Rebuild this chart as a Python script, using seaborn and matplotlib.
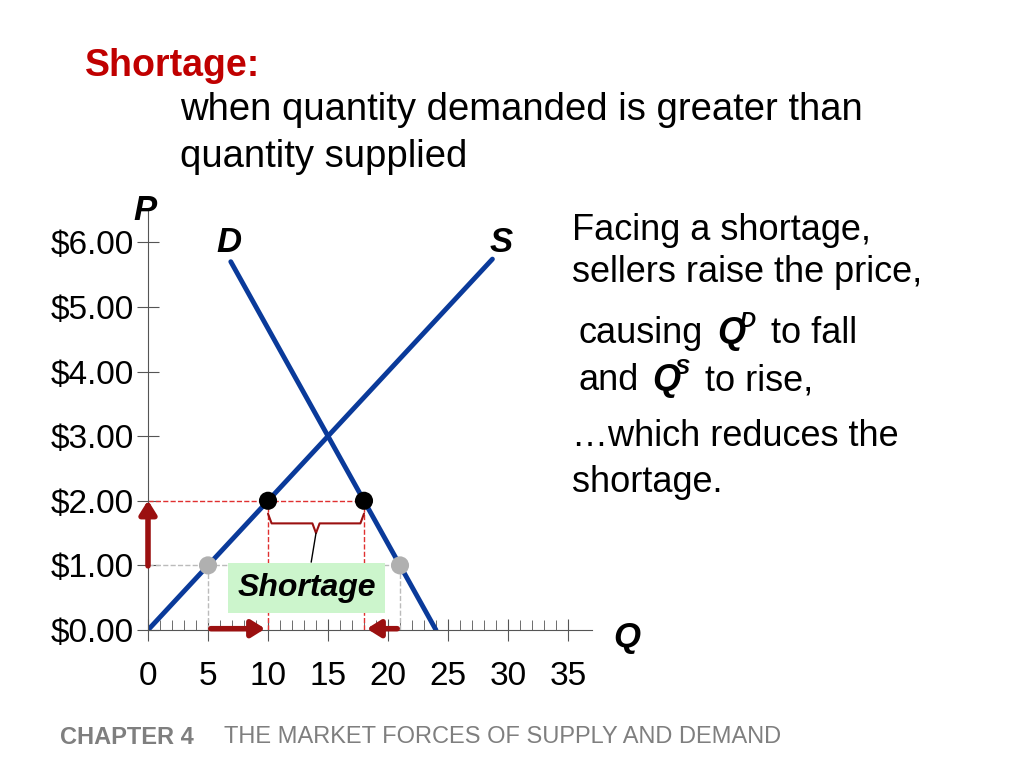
import seaborn as sns
import matplotlib.pyplot as plt
import pandas as pd
import numpy as np

sns.set_style("white")
plt.rcParams['font.family'] = ['Liberation Sans', 'DejaVu Sans']
plt.rcParams['text.color'] = 'black'
plt.rcParams['xtick.color'] = '#555555'
plt.rcParams['ytick.color'] = '#555555'
plt.rcParams['xtick.labelcolor'] = 'black'
plt.rcParams['ytick.labelcolor'] = 'black'

q = np.array([0, 5, 10, 15, 20, 25, 28.7])
supply = pd.DataFrame({'Q': q, 'P': q / 5})
qd = np.array([6.9, 10, 15, 18, 21, 24])
demand = pd.DataFrame({'Q': qd, 'P': (24 - qd) / 3})
pts = pd.DataFrame({'Q': [10, 18, 5, 21], 'P': [2, 2, 1, 1],
                    'kind': ['new', 'new', 'old', 'old']})

fig = plt.figure(figsize=(10.24, 7.68), dpi=100)
W, H = 1024, 768
def fx(x): return x / W
def fy(y): return 1 - y / H

ax = fig.add_axes([148 / W, (H - 630) / H, 444 / W, 420 / H])
ax.set_xlim(0, 37)
ax.set_ylim(0, 6.5)

blue = '#0a3a9a'
red = '#9b1010'
sns.lineplot(data=supply, x='Q', y='P', ax=ax, color=blue, lw=3.5, sort=False)
sns.lineplot(data=demand, x='Q', y='P', ax=ax, color=blue, lw=3.5, sort=False)

# guide lines
ax.plot([0, 18], [2, 2], color='#e03030', ls='--', lw=1)
for xv in [10, 18]:
    ax.plot([xv, xv], [0, 2], color='#e03030', ls='--', lw=1)
ax.plot([0, 21], [1, 1], color='#bbbbbb', ls='--', lw=1)
for xv in [5, 21]:
    ax.plot([xv, xv], [0, 1], color='#bbbbbb', ls='--', lw=1)

sns.scatterplot(data=pts, x='Q', y='P', hue='kind', palette={'new': 'black', 'old': '#b0b0b0'},
                s=170, ax=ax, legend=False, zorder=5, edgecolor='none', clip_on=False)

# arrows
ap = dict(arrowstyle='-|>,head_width=0.5,head_length=0.8', color=red, lw=4)
ax.annotate('', xy=(0, 2.05), xytext=(0, 0.95), arrowprops=ap, annotation_clip=False)
ax.annotate('', xy=(10, 0.02), xytext=(5, 0.02), arrowprops=ap, annotation_clip=False)
ax.annotate('', xy=(18, 0.02), xytext=(21, 0.02), arrowprops=ap, annotation_clip=False)

# brace
bx = [10, 10.3, 13.7, 14, 14.3, 17.7, 18]
by = [1.8, 1.65, 1.65, 1.5, 1.65, 1.65, 1.8]
ax.plot(bx, by, color=red, lw=1.5)
ax.plot([14, 13.6], [1.5, 1.05], color='black', lw=1)
ax.text(13.2, 0.65, 'Shortage', fontsize=23, fontweight='bold', fontstyle='italic',
        ha='center', va='center', zorder=6,
        bbox=dict(boxstyle='square,pad=0.3', fc='#ccf5cc', ec='none'))

# axes styling
for s in ['top', 'right']:
    ax.spines[s].set_visible(False)
for s in ['left', 'bottom']:
    ax.spines[s].set_color('#555555')
ax.set_yticks([0, 1, 2, 3, 4, 5, 6])
ax.set_yticklabels(['$0.00', '$1.00', '$2.00', '$3.00', '$4.00', '$5.00', '$6.00'])
ax.set_xticks([0, 5, 10, 15, 20, 25, 30, 35])
ax.set_xticks(np.arange(0, 36, 1), minor=True)
ax.tick_params(axis='y', left=True, direction='inout', length=16, labelsize=24, pad=2)
ax.tick_params(axis='x', which='major', bottom=True, direction='inout', length=16, labelsize=24, pad=14)
ax.tick_params(axis='x', which='minor', bottom=True, direction='in', length=7)
ax.set_xlabel('')
ax.set_ylabel('')

# labels
fig.text(fx(133), fy(210), 'P', fontsize=25, fontweight='bold', fontstyle='italic', va='center')
fig.text(fx(613), fy(637), 'Q', fontsize=25, fontweight='bold', fontstyle='italic', va='center')
fig.text(fx(216), fy(242), 'D', fontsize=25, fontweight='bold', fontstyle='italic', va='center')
fig.text(fx(490), fy(242), 'S', fontsize=25, fontweight='bold', fontstyle='italic', va='center')

fig.text(fx(85), fy(66), 'Shortage:', fontsize=27, fontweight='bold', color='#c00000', va='center')
fig.text(fx(180), fy(110), 'when quantity demanded is greater than', fontsize=27.5, va='center')
fig.text(fx(180), fy(157), 'quantity supplied', fontsize=27.5, va='center')

fs = 26
fig.text(fx(572), fy(231), 'Facing a shortage,', fontsize=fs, va='center')
fig.text(fx(572), fy(273), 'sellers raise the price,', fontsize=fs, va='center')
fig.text(fx(578), fy(334), 'causing', fontsize=fs, va='center')
fig.text(fx(717), fy(334), 'Q', fontsize=fs, fontweight='bold', fontstyle='italic', va='center')
fig.text(fx(740), fy(322), 'D', fontsize=16, fontweight='bold', fontstyle='italic', va='center')
fig.text(fx(771), fy(334), 'to fall', fontsize=fs, va='center')
fig.text(fx(578), fy(381), 'and', fontsize=fs, va='center')
fig.text(fx(652), fy(381), 'Q', fontsize=fs, fontweight='bold', fontstyle='italic', va='center')
fig.text(fx(675), fy(369), 'S', fontsize=16, fontweight='bold', fontstyle='italic', va='center')
fig.text(fx(705), fy(381), 'to rise,', fontsize=fs, va='center')
fig.text(fx(572), fy(436), '\u2026which reduces the', fontsize=fs, va='center')
fig.text(fx(572), fy(482), 'shortage.', fontsize=fs, va='center')

fig.text(fx(60), fy(737), 'CHAPTER 4', fontsize=17, fontweight='bold', color='#7f7f7f', va='center')
fig.text(fx(224), fy(737), 'THE MARKET FORCES OF SUPPLY AND DEMAND', fontsize=17, color='#7f7f7f', va='center')

plt.savefig('out.png', dpi=100)
